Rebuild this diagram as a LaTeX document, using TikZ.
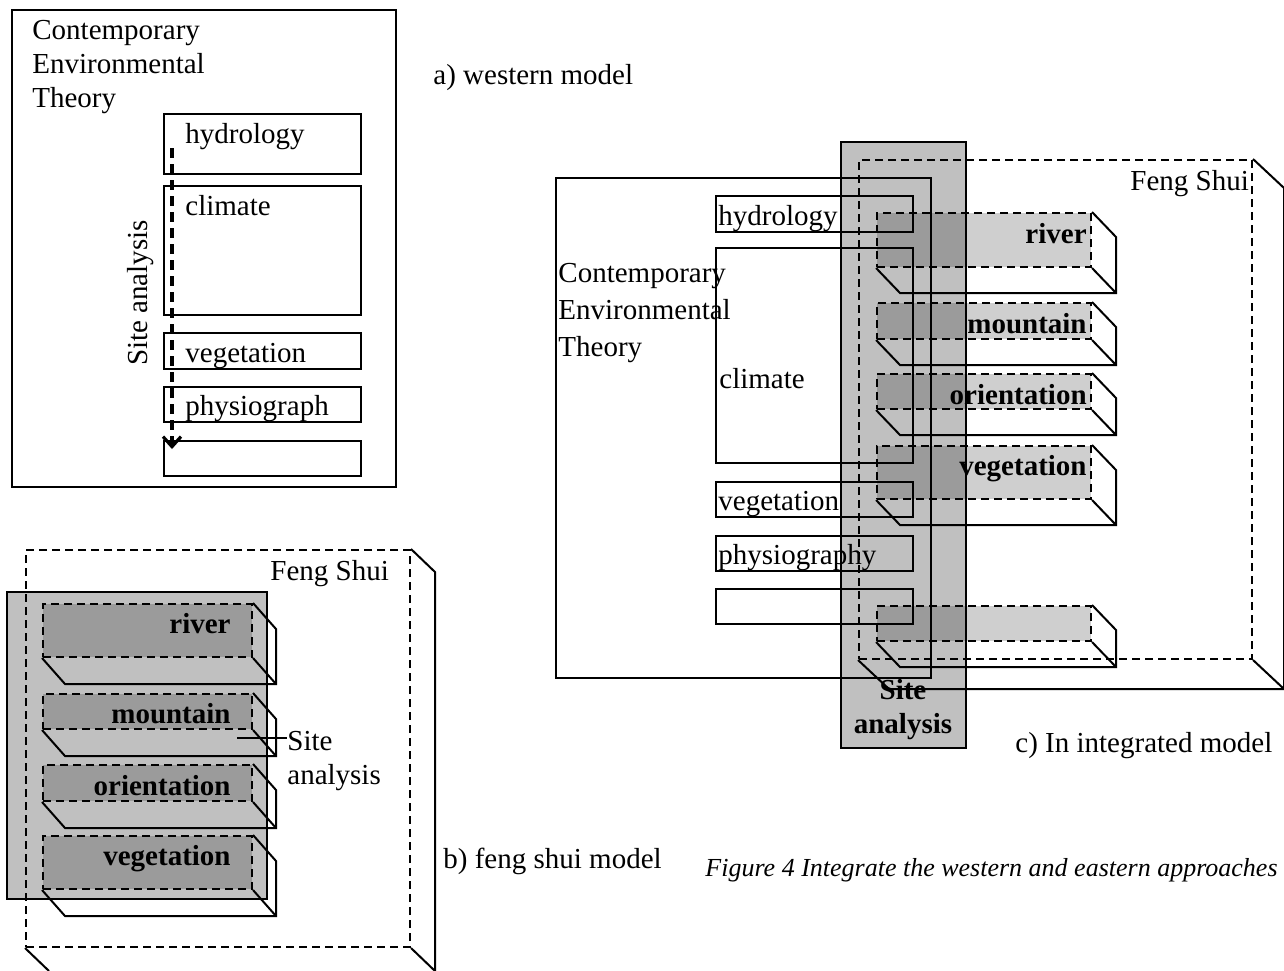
\documentclass[tikz,border=0pt]{standalone}
\usepackage{fontspec}
\setmainfont{Liberation Serif}
\usetikzlibrary{arrows.meta, fit, positioning}
\definecolor{siteGray}{RGB}{192, 192, 192}
\tikzset{
    plain_box/.style={
        draw,
        line width=1pt,
        inner sep=0pt
    },
    fs_box/.style={
        draw,
        line width=1pt,
        dash pattern=on 4pt off 2.5pt,
        inner sep=0pt
    },
    fs_edge/.style={
        line width=1pt
    },
    site_col/.style={
        draw,
        line width=1pt,
        fill=siteGray,
        inner sep=0pt
    },
    slab_front/.style={
        draw,
        line width=1pt,
        dash pattern=on 4pt off 2.5pt,
        fill=black,
        fill opacity=0.19,
        inner sep=0pt
    },
    slab_edge/.style={
        line width=1pt
    },
    label_txt/.style={
        inner sep=0pt
    },
    slab_txt/.style={
        inner sep=0pt,
        font=\bfseries,
        anchor=base east
    },
    site_arrow/.style={
        line width=1.6pt,
        dash pattern=on 5pt off 3pt,
        -{Straight Barb[length=5pt, width=9pt]}
    }
}

\begin{document}
\fontsize{14.5}{17}\selectfont
\begin{tikzpicture}[x=0.5pt, y=-0.5pt]
    \useasboundingbox (0,0) rectangle (1284,970);

    % a) western model
    \node[plain_box, fit={(12,10) (396,487)}] (cetA) {};
    \node[label_txt, anchor=north west, align=left] (cetA-txt) at (32,20) {Contemporary\\Environmental\\Theory};
    \node[plain_box, fit={(164,114) (361,174)}] (hydroA) {};
    \node[plain_box, fit={(164,186) (361,315)}] (climA) {};
    \node[plain_box, fit={(164,333) (361,369)}] (vegA) {};
    \node[plain_box, fit={(164,387) (361,422)}] (physA) {};
    \node[plain_box, fit={(164,441) (361,476)}] (restA) {};
    \node[label_txt, anchor=base west] (hydroA-txt) at (185,143) {hydrology};
    \node[label_txt, anchor=base west] (climA-txt) at (185,215) {climate};
    \node[label_txt, anchor=base west] (vegA-txt) at (185,362) {vegetation};
    \node[label_txt, anchor=base west] (physA-txt) at (185,415) {physiograph};
    \node[label_txt, anchor=base, rotate=90] (siteA-txt) at (147,293) {Site analysis};
    \coordinate (siteA-top) at (172,148);
    \coordinate (siteA-end) at (172,449);
    \draw[site_arrow] (siteA-top) -- (siteA-end);
    \node[label_txt, anchor=base west] (modelA) at (433,84) {a) western model};

    % b) feng shui model
    \node[site_col, fit={(7,592) (267,899)}] (siteB) {};
    \node[fs_box, fit={(26,550) (410,947)}] (fsB) {};
    \draw[fs_edge] (fsB.north east) -- ++(24,23) -- ++(0,400)
        (fsB.south west) -- ++(24,23)
        (fsB.south east) -- ++(24,23);
    \node[label_txt, anchor=base west] (fsB-txt) at (270,580) {Feng Shui};
    \foreach \nm/\ya/\yb/\yt/\lbl in {riverB/604/657/633/river, mountB/694/729/723/mountain,
                                     orientB/765/801/795/orientation, vegB/836/889/865/vegetation}{
        \node[slab_front, fit={(43,\ya) (252,\yb)}] (\nm) {};
        \draw[slab_edge] (\nm.north east) -- ++(23,26) |- ([shift={(23,26)}]\nm.south west) -- (\nm.south west)
            (\nm.south east) -- ++(23,26);
        \node[slab_txt] (\nm-txt) at (231,\yt) {\lbl};
    }
    \coordinate (leadB) at (237,738);
    \node[label_txt, anchor=north west, align=left] (siteB-txt) at (287,731) {Site\\analysis};
    \draw[slab_edge] (leadB) -- (leadB -| siteB-txt.west);
    \node[label_txt, anchor=base west] (modelB) at (443,868) {b) feng shui model};

    % c) integrated model
    \node[site_col, fit={(841,142) (966,748)}] (siteC) {};
    \node[plain_box, fit={(556,178) (931,678)}] (cetC) {};
    \node[plain_box, fit={(716,196) (913,232)}] (hydroC) {};
    \node[plain_box, fit={(716,248) (913,463)}] (climC) {};
    \node[plain_box, fit={(716,482) (913,517)}] (vegC) {};
    \node[plain_box, fit={(716,536) (913,571)}] (physC) {};
    \node[plain_box, fit={(716,589) (913,624)}] (restC) {};
    \node[label_txt, anchor=base west] (hydroC-txt) at (718,225) {hydrology};
    \node[label_txt, anchor=base west] (climC-txt) at (719,388) {climate};
    \node[label_txt, anchor=base west] (vegC-txt) at (718,510) {vegetation};
    \node[label_txt, anchor=base west] (physC-txt) at (718,564) {physiography};
    \node[label_txt, anchor=north west, align=left, font=\fontsize{14.5}{18.5}\selectfont] (cetC-txt) at (558,263) {Contemporary\\Environmental\\Theory};
    \node[fs_box, fit={(859,160) (1252,659)}] (fsC) {};
    \draw[fs_edge] (fsC.north east) -- ++(31,29) |- ([shift={(31,29)}]fsC.south west) -- (fsC.south west)
        (fsC.south east) -- ++(31,29);
    \node[label_txt, anchor=base west] (fsC-txt) at (1130,190) {Feng Shui};
    \foreach \nm/\ya/\yb/\yt/\lbl in {riverC/213/267/243/river, mountC/303/339/333/mountain,
                                     orientC/374/409/404/orientation, vegC2/446/499/475/vegetation,
                                     restC2/606/641/635/{}}{
        \node[slab_front, fit={(877,\ya) (1091,\yb)}] (\nm) {};
        \draw[slab_edge] (\nm.north east) -- ++(24,25) |- ([shift={(24,25)}]\nm.south west) -- (\nm.south west)
            (\nm.south east) -- ++(24,25);
        \node[slab_txt] (\nm-txt) at (1087,\yt) {\lbl};
    }
    \node[label_txt, font=\bfseries, anchor=north, align=center] (siteC-txt) at (903,679) {Site\\analysis};
    \node[label_txt, anchor=base west] (modelC) at (1015,752) {c) In integrated model};
    \node[label_txt, font=\fontsize{13}{15}\selectfont\itshape, anchor=base east] (caption) at (1278,876) {Figure 4 Integrate the western and eastern approaches};
\end{tikzpicture}
\end{document}
